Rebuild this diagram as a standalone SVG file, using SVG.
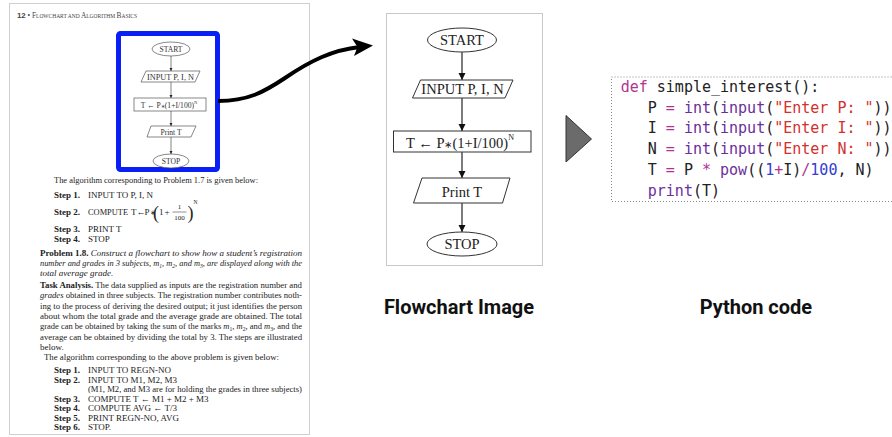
<svg xmlns="http://www.w3.org/2000/svg" width="892" height="437" viewBox="0 0 892 437">
<style>
.pg{font-family:"Liberation Serif","Times New Roman",serif;font-size:9px;fill:#222}
.b{font-weight:bold}
.i{font-style:italic}
.sub{font-size:6px}
.mini{font-family:"Liberation Serif","Times New Roman",serif;font-size:7.6px;fill:#333;text-anchor:middle}
.mshape{fill:#fff;stroke:#555;stroke-width:0.7}
.fc{font-family:"Liberation Serif","Times New Roman",serif;font-size:14.5px;fill:#222;text-anchor:middle}
.shape{fill:#fff;stroke:#333;stroke-width:1}
.code{font-family:"DejaVu Sans Mono","Liberation Mono",monospace;font-size:15px;fill:#222}
.kw{fill:#b1338f}
.op{fill:#b1338f}
.bi{fill:#6b2e9b}
.st{fill:#d3302c}
.nm{fill:#3340d4}
.lab{font-family:Roboto,"Liberation Sans",sans-serif;font-size:20px;font-weight:bold;fill:#111;text-anchor:middle}
</style>
<defs>
<marker id="ah" markerUnits="userSpaceOnUse" markerWidth="8" markerHeight="8" refX="7" refY="4" orient="auto">
<path d="M0,0.5 L7,4 L0,7.5 Z" fill="#111"/>
</marker>
<marker id="ahs" markerUnits="userSpaceOnUse" markerWidth="4" markerHeight="4" refX="3.5" refY="2" orient="auto">
<path d="M0,0.3 L3.5,2 L0,3.7 Z" fill="#222"/>
</marker>
</defs>
<rect width="892" height="437" fill="#fff"/>

<!-- textbook page -->
<g id="page">
<rect x="9.5" y="3.5" width="300" height="431" fill="#fff" stroke="#cfcfcf" stroke-width="1"/>
<text x="17" y="18" class="pg" style="font-size:7.5px;fill:#444" textLength="120" lengthAdjust="spacingAndGlyphs"><tspan style="font-family:'Liberation Sans',sans-serif;font-weight:bold;font-size:8px">12</tspan> • F<tspan style="font-size:5.6px">LOWCHART AND </tspan>A<tspan style="font-size:5.6px">LGORITHM </tspan>B<tspan style="font-size:5.6px">ASICS</tspan></text>
<rect x="118.5" y="33.5" width="99" height="136" rx="2" fill="#fff" stroke="#0a1ff5" stroke-width="5"/>

<text x="54" y="183" class="pg" textLength="204" lengthAdjust="spacingAndGlyphs">The algorithm corresponding to Problem 1.7 is given below:</text>
<text x="54" y="198" class="pg b">Step 1.</text><text x="88" y="198" class="pg">INPUT TO P, I, N</text>
<text x="54" y="215" class="pg b">Step 2.</text><text x="88" y="215" class="pg" textLength="40" lengthAdjust="spacingAndGlyphs">COMPUTE</text>
<text x="131" y="215" class="pg">T</text><text x="136.5" y="215" class="pg">←</text><text x="144.5" y="215" class="pg">P</text><text x="149.5" y="215" class="pg" style="font-size:7px">∗</text>
<text x="153" y="219" class="pg" style="font-size:18px">(</text>
<text x="159" y="215" class="pg">1</text><text x="164.5" y="215" class="pg">+</text>
<text x="179.5" y="209" class="pg" style="font-size:7px;text-anchor:middle">1</text>
<line x1="172.5" y1="212" x2="186.5" y2="212" stroke="#222" stroke-width="0.5"/>
<text x="179.5" y="220" class="pg" style="font-size:7px;text-anchor:middle">100</text>
<text x="187.5" y="219" class="pg" style="font-size:18px">)</text>
<text x="193.5" y="204" class="pg" style="font-size:5.5px">N</text>
<text x="54" y="232" class="pg b">Step 3.</text><text x="88" y="232" class="pg">PRINT T</text>
<text x="54" y="242" class="pg b">Step 4.</text><text x="88" y="242" class="pg">STOP</text>

<text x="40" y="256" class="pg" textLength="262" lengthAdjust="spacingAndGlyphs"><tspan class="b">Problem 1.8.</tspan><tspan class="i"> Construct a flowchart to show how a student’s registration</tspan></text>
<text x="40" y="266" class="pg i" textLength="262" lengthAdjust="spacingAndGlyphs">number and grades in 3 subjects, m<tspan class="sub" baseline-shift="-1.5">1</tspan>, m<tspan class="sub" baseline-shift="-1.5">2</tspan>, and m<tspan class="sub" baseline-shift="-1.5">3</tspan>, are displayed along with the</text>
<text x="40" y="276" class="pg i">total average grade.</text>

<text x="40" y="288" class="pg" textLength="262" lengthAdjust="spacingAndGlyphs"><tspan class="b">Task Analysis.</tspan> The data supplied as inputs are the registration number and</text>
<text x="40" y="298.3" class="pg" textLength="262" lengthAdjust="spacingAndGlyphs"><tspan class="i">grades</tspan> obtained in three subjects. The registration number contributes noth-</text>
<text x="40" y="308.6" class="pg" textLength="262" lengthAdjust="spacingAndGlyphs">ing to the process of deriving the desired output; it just identifies the person</text>
<text x="40" y="318.9" class="pg" textLength="262" lengthAdjust="spacingAndGlyphs">about whom the total grade and the average grade are obtained. The total</text>
<text x="40" y="329.2" class="pg" textLength="262" lengthAdjust="spacingAndGlyphs">grade can be obtained by taking the sum of the marks <tspan class="i">m</tspan><tspan class="sub" baseline-shift="-1.5">1</tspan>, <tspan class="i">m</tspan><tspan class="sub" baseline-shift="-1.5">2</tspan>, and <tspan class="i">m</tspan><tspan class="sub" baseline-shift="-1.5">3</tspan>, and the</text>
<text x="40" y="339.5" class="pg" textLength="262" lengthAdjust="spacingAndGlyphs">average can be obtained by dividing the total by 3. The steps are illustrated</text>
<text x="40" y="349.8" class="pg">below.</text>
<text x="44" y="360.1" class="pg" textLength="235" lengthAdjust="spacingAndGlyphs">The algorithm corresponding to the above problem is given below:</text>

<text x="54" y="373" class="pg b">Step 1.</text><text x="88" y="373" class="pg">INPUT TO REGN-NO</text>
<text x="54" y="382.5" class="pg b">Step 2.</text><text x="88" y="382.5" class="pg">INPUT TO M1, M2, M3</text>
<text x="88" y="392" class="pg" textLength="214" lengthAdjust="spacingAndGlyphs">(M1, M2, and M3 are for holding the grades in three subjects)</text>
<text x="54" y="401.5" class="pg b">Step 3.</text><text x="88" y="401.5" class="pg">COMPUTE T ← M1 + M2 + M3</text>
<text x="54" y="411" class="pg b">Step 4.</text><text x="88" y="411" class="pg">COMPUTE AVG ← T/3</text>
<text x="54" y="420.5" class="pg b">Step 5.</text><text x="88" y="420.5" class="pg">PRINT REGN-NO, AVG</text>
<text x="54" y="430" class="pg b">Step 6.</text><text x="88" y="430" class="pg">STOP.</text>
</g>

<!-- mini flowchart nodes -->
<g id="mini-start"><ellipse cx="171" cy="49" rx="19" ry="7" class="mshape"/><text x="171" y="52" class="mini">START</text></g>
<g id="mini-input"><polygon points="146,71 200,71 195,82 141,82" class="mshape"/><text x="170.5" y="79.5" class="mini" textLength="47" lengthAdjust="spacingAndGlyphs">INPUT P, I, N</text></g>
<g id="mini-compute"><rect x="134" y="98" width="72" height="13" class="mshape"/><text x="169" y="107.5" class="mini">T ← P<tspan style="font-size:5px">∗</tspan>(1+I/100)<tspan style="font-size:4.5px" dy="-4">N</tspan></text></g>
<g id="mini-print"><polygon points="151,126 196,126 191,137 147,137" class="mshape"/><text x="171" y="134.5" class="mini">Print T</text></g>
<g id="mini-stop"><ellipse cx="171" cy="161" rx="18" ry="7" class="mshape"/><text x="171" y="164" class="mini">STOP</text></g>

<!-- flowchart image panel -->
<rect x="386.5" y="13.5" width="156" height="252" fill="#fff" stroke="#c8c8c8" stroke-width="1"/>
<g id="start"><ellipse cx="462" cy="40" rx="34.5" ry="12" class="shape"/><text x="462" y="45" class="fc">START</text></g>
<g id="input"><polygon points="420.5,80 513,80 505,98 412.5,98" class="shape"/><text x="462.5" y="94" class="fc">INPUT P, I, N</text></g>
<g id="compute"><rect x="393.5" y="131" width="137.5" height="21" class="shape"/><text x="460" y="147.5" class="fc">T ← P<tspan style="font-size:10px">∗</tspan>(1+I/100)<tspan style="font-size:8px" dy="-8">N</tspan></text></g>
<g id="print"><polygon points="422,178 510,178 502.5,203 413.5,203" class="shape"/><text x="462" y="196.5" class="fc">Print T</text></g>
<g id="stop"><ellipse cx="462" cy="244" rx="35" ry="12" class="shape"/><text x="462" y="249" class="fc">STOP</text></g>

<!-- connectors -->
<g id="connectors">
<line x1="171" y1="56" x2="171" y2="71" stroke="#333" stroke-width="0.6" marker-end="url(#ahs)"/>
<line x1="171" y1="82" x2="171" y2="98" stroke="#333" stroke-width="0.6" marker-end="url(#ahs)"/>
<line x1="171" y1="111" x2="171" y2="126" stroke="#333" stroke-width="0.6" marker-end="url(#ahs)"/>
<line x1="171" y1="137" x2="171" y2="154" stroke="#333" stroke-width="0.6" marker-end="url(#ahs)"/>
<line x1="462" y1="52" x2="462" y2="80" stroke="#444" stroke-width="1.4" marker-end="url(#ah)"/>
<line x1="462" y1="98" x2="462" y2="131" stroke="#444" stroke-width="1.4" marker-end="url(#ah)"/>
<line x1="462" y1="152" x2="462" y2="178" stroke="#444" stroke-width="1.4" marker-end="url(#ah)"/>
<line x1="462" y1="203" x2="462" y2="232" stroke="#444" stroke-width="1.4" marker-end="url(#ah)"/>
<path d="M218,101 C248,101 264,92 285,78 C310,61 332,50 360,47" fill="none" stroke="#000" stroke-width="4"/>
<polygon points="373,45.5 352,38.5 357.5,47 354,56" fill="#000"/>
<polygon points="566,115.5 591.5,139 566,162" fill="#6b6b6b" stroke="#333" stroke-width="1"/>
</g>

<!-- python code -->
<g id="code">
<rect x="611.5" y="77" width="300" height="124.5" fill="#fff" stroke="#888" stroke-width="1" stroke-dasharray="1,2"/>
<text x="620.7" y="92" class="code" xml:space="preserve"><tspan class="kw">def</tspan> simple_interest():</text>
<text x="620.7" y="112.7" class="code" xml:space="preserve">   P <tspan class="op">=</tspan> <tspan class="bi">int</tspan>(<tspan class="bi">input</tspan>(<tspan class="st">"Enter P: "</tspan>))</text>
<text x="620.7" y="133.4" class="code" xml:space="preserve">   I <tspan class="op">=</tspan> <tspan class="bi">int</tspan>(<tspan class="bi">input</tspan>(<tspan class="st">"Enter I: "</tspan>))</text>
<text x="620.7" y="154.1" class="code" xml:space="preserve">   N <tspan class="op">=</tspan> <tspan class="bi">int</tspan>(<tspan class="bi">input</tspan>(<tspan class="st">"Enter N: "</tspan>))</text>
<text x="620.7" y="174.8" class="code" xml:space="preserve">   T <tspan class="op">=</tspan> P <tspan class="op">*</tspan> <tspan class="bi">pow</tspan>((<tspan class="nm">1</tspan><tspan class="op">+</tspan>I)<tspan class="op">/</tspan><tspan class="nm">100</tspan>, N)</text>
<text x="620.7" y="195.5" class="code" xml:space="preserve">   <tspan class="bi">print</tspan>(T)</text>
</g>

<!-- labels -->
<g id="labels">
<text x="459" y="314" class="lab">Flowchart Image</text>
<text x="756" y="314" class="lab">Python code</text>
</g>
</svg>
